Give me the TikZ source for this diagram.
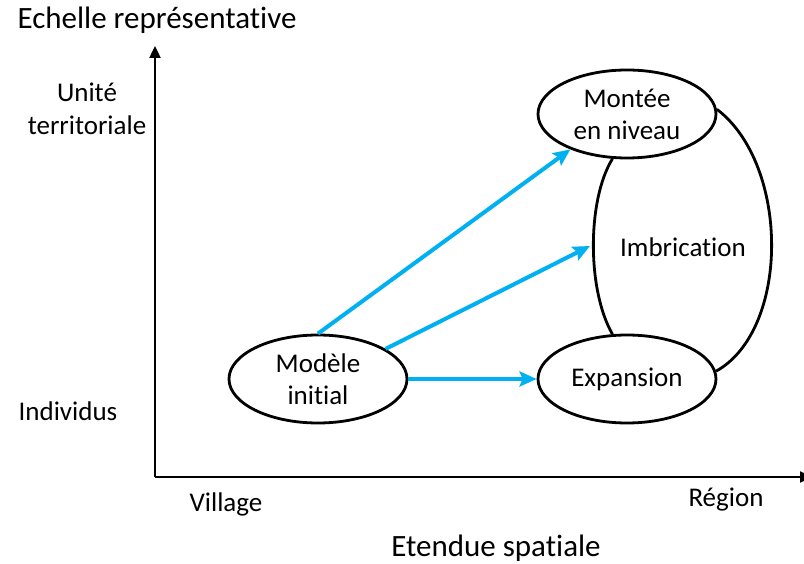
\documentclass[tikz,border=0pt]{standalone}
\usepackage{fontspec}
\setmainfont{Carlito}[Ligatures={NoCommon}]
\usetikzlibrary{shapes.geometric,arrows.meta}
\definecolor{flowblue}{RGB}{0,176,240}
\begin{document}
\begin{tikzpicture}[x=1pt,y=-1pt,
  phase/.style={ellipse,draw=black,line width=2.8pt,minimum width=178pt,minimum height=88pt,
    inner sep=0pt,align=center,font=\fontsize{27}{32}\selectfont},
  lbl/.style={align=center,font=\fontsize{27}{33}\selectfont,inner sep=0pt},
  title/.style={font=\fontsize{31}{36}\selectfont,inner sep=0pt},
  axis/.style={line width=2.4pt,-{Triangle[length=12pt,width=11pt]}},
  flow/.style={draw=flowblue,line width=4pt,-{Stealth[length=17pt,width=15pt,inset=3pt]}},
  link/.style={draw=black,line width=2.8pt}]
\useasboundingbox (0,0) rectangle (804,564);

% axes
\coordinate (origin) at (155,477);
\coordinate (ytip) at (155,46);
\coordinate (xtip) at (812,477);
\draw[axis] (origin) -- (ytip);
\draw[axis] (origin) -- (xtip);

% axis titles and graduations
\node[title] (ytitle) at (157,20) {Echelle représentative};
\node[title] (xtitle) at (496,548) {Etendue spatiale};
\node[lbl] (yhigh) at (87,109) {Unité\\territoriale};
\node[lbl] (ylow) at (68,411) {Individus};
\node[lbl] (xlow) at (226,504) {Village};
\node[lbl] (xhigh) at (726,500) {Région};

% phases
\node[phase] (mont) at (627,114) {Montée\\en niveau};
\node[phase] (exp) at (627,379) {Expansion};
\node[phase] (mod) at (318,379) {Modèle\\initial};

% imbrication loop between the two upper-right phases
\draw[link] (mont.-108) .. controls (587,200) and (587,290) .. (exp.108);
\draw[link] (mont.3) .. controls (790,165) and (790,330) .. (exp.5);
\node[lbl] (imb) at (683,247) {Imbrication};
\coordinate (imbL) at (590,246);

% flows out of the initial model
\draw[flow] (mod.north) -- (mont.212);
\draw[flow] (mod.24) -- (imbL);
\draw[flow] (mod.east) -- (exp.west);
\end{tikzpicture}
\end{document}
